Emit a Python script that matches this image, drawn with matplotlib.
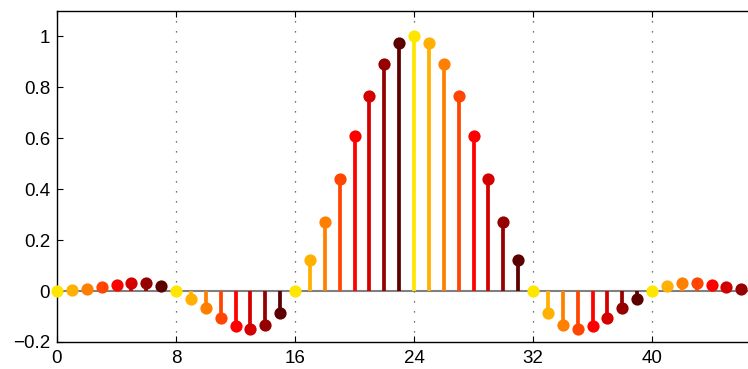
import matplotlib
matplotlib.use("Agg")
import matplotlib.pyplot as plt
import numpy as np

n = list(range(47))
values = [0.0, 0.003, 0.007, 0.015, 0.025, 0.031, 0.031, 0.021,
          0.0, -0.032, -0.068, -0.105, -0.136, -0.148, -0.133, -0.085,
          0.0, 0.122, 0.272, 0.441, 0.610, 0.765, 0.890, 0.973,
          1.0, 0.973, 0.890, 0.765, 0.610, 0.441, 0.272, 0.122,
          0.0, -0.085, -0.133, -0.148, -0.136, -0.105, -0.068, -0.032,
          0.0, 0.021, 0.031, 0.031, 0.025, 0.017, 0.008]
palette = ["#FFE600", "#FFB000", "#FF8000", "#FF4500",
           "#FF0000", "#D40000", "#950000", "#5C0000"]
xticks = [0, 8, 16, 24, 32, 40]
yticks = [-0.2, 0, 0.2, 0.4, 0.6, 0.8, 1]
ytick_labels = ["\u22120.2", "0", "0.2", "0.4", "0.6", "0.8", "1"]

plt.rcParams['font.family'] = ['Liberation Sans', 'DejaVu Sans']
fig = plt.figure(figsize=(7.48, 3.69), dpi=100)
ax = fig.add_axes([57/748, 27/369, 691/748 + 0.002, 331/369])

ax.set_xlim(0, 46.55)
ax.set_ylim(-0.2, 1.1)

for xv in xticks[1:]:
    ax.axvline(xv, color="#444444", linestyle=(0, (1, 7)), linewidth=0.9, zorder=0)

ax.axhline(0, color="#808080", linewidth=1.5, zorder=1)

for i, (xi, yi) in enumerate(zip(n, values)):
    c = palette[i % len(palette)]
    ax.plot([xi, xi], [0, yi], color=c, linewidth=2.7, zorder=2, solid_capstyle='butt')
    ax.plot([xi], [yi], 'o', color=c, markersize=8.8, markeredgewidth=0, zorder=3, clip_on=False)

ax.set_xticks(xticks)
ax.set_yticks(yticks)
ax.set_yticklabels(ytick_labels)
ax.tick_params(direction='in', length=4, width=0.8, labelsize=13.5,
               top=True, right=False, colors='black')
ax.tick_params(axis='x', pad=5.5)
ax.tick_params(axis='y', pad=5)
for s in ax.spines.values():
    s.set_linewidth(1.0)

fig.savefig("out.png", dpi=100)
